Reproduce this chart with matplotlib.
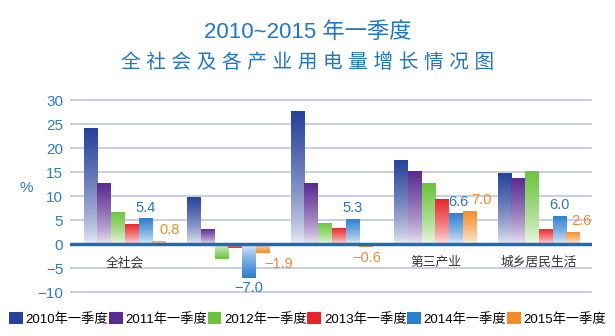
import numpy as np
import matplotlib
matplotlib.use("Agg")
import matplotlib.pyplot as plt
import matplotlib.colors as mcolors
from matplotlib.patches import Patch

plt.rcParams["font.family"] = ["Liberation Sans", "Noto Sans CJK SC", "DejaVu Sans"]

# =========================
# Data
# =========================
categories = ["全社会", "", "", "第三产业", "城乡居民生活"]
series_names = ["2010年一季度", "2011年一季度", "2012年一季度",
                "2013年一季度", "2014年一季度", "2015年一季度"]
v2010 = [24.3, 9.8, 27.8, 17.6, 14.9]
v2011 = [12.7, 3.3, 12.7, 15.3, 13.9]
v2012 = [6.8, -3.1, 4.5, 12.7, 15.3]
v2013 = [4.2, -0.8, 3.5, 9.4, 3.3]
v2014 = [5.4, -7.0, 5.3, 6.6, 6.0]
v2015 = [0.8, -1.9, -0.6, 7.0, 2.6]
yticks = [-10, -5, 0, 5, 10, 15, 20, 25, 30]

# =========================
# Style
# =========================
colors = ["#27409a", "#5a2a90", "#6cc43e", "#e8242a", "#2a7fcf", "#f28c28"]
tick_blue = "#2f7cc2"
label_blue = "#2a78c0"
label_orange = "#ee8a2c"
dx_2014 = [0, 0, 0, 2, 0]          # label shift in points
dx_2015 = [7, 11.5, 0, 8, 6]


def gradient_bar(ax, patch, color):
    x, w = patch.get_x(), patch.get_width()
    y0, h = patch.get_y(), patch.get_height()
    rgb = np.array(mcolors.to_rgb(color))
    t = np.linspace(0, 1, 64)[:, None, None]
    a = 0.08 + 0.92 * t ** 0.7
    img = (1 - a) * np.ones(3) + a * rgb
    im = ax.imshow(img, extent=(x, x + w, y0, y0 + h), origin="lower",
                   aspect="auto", interpolation="bilinear", zorder=2)
    im.set_clip_path(patch)
    patch.set_facecolor("none")
    patch.set_edgecolor("none")


fig = plt.figure(figsize=(6.15, 3.36), dpi=100)
ax = fig.add_axes([0.114, 0.127, 0.849, 0.577])

data = [v2010, v2011, v2012, v2013, v2014, v2015]
n = len(data)
width = 0.133
xs = np.arange(len(categories))

all_bars = []
for i, vals in enumerate(data):
    offs = (i - (n - 1) / 2) * width
    bars = ax.bar(xs + offs, vals, width=width, color=colors[i], zorder=2)
    all_bars.append(bars)
    for p in bars:
        gradient_bar(ax, p, colors[i])

# value labels for 2014 and 2015
for series_i, dxs, col in [(4, dx_2014, label_blue), (5, dx_2015, label_orange)]:
    for p, v, dx in zip(all_bars[series_i], data[series_i], dxs):
        cx = p.get_x() + p.get_width() / 2
        if v >= 0:
            ax.annotate(f"{v:.1f}", (cx, v), xytext=(dx, 2.5), textcoords="offset points",
                        ha="center", va="bottom", color=col, fontsize=10.5)
        else:
            ax.annotate(f"{v:.1f}".replace("-", "\u2212"), (cx, v), xytext=(dx, -2.5),
                        textcoords="offset points", ha="center", va="top",
                        color=col, fontsize=10.5)

# category labels just under the zero line
for x, name in zip(xs, categories):
    if name:
        ax.annotate(name, (x, 0), xytext=(0, -13.5), textcoords="offset points",
                    ha="center", va="center", color="#333333", fontsize=9.2,
                    weight="medium")

ax.axhline(0, color="#1f6cb4", linewidth=2.5, zorder=4)
ax.set_yticks(yticks)
ax.yaxis.grid(True, color="#c7cfe6", linewidth=1.4)
ax.set_axisbelow(True)
ax.tick_params(axis="y", length=0, pad=5, labelcolor=tick_blue, labelsize=11)
ax.set_xticks([])
for s in ax.spines.values():
    s.set_visible(False)
ax.set_xlim(-0.53, len(categories) - 1 + 0.515)
ax.set_ylim(-10.2, 30.2)

fig.text(26 / 615, 1 - 188 / 336, "%", color=tick_blue, fontsize=11,
         ha="center", va="center")

# titles
fig.text(0.5, 1 - 32 / 336, "2010~2015 年一季度", color="#2276c0", fontsize=16,
         ha="center", va="center", weight="medium")
fig.text(0.5, 1 - 63 / 336, " ".join("全社会及各产业用电量增长情况图"), color="#2276c0",
         fontsize=14.2, ha="center", va="center", weight="medium")

handles = [Patch(facecolor=c, edgecolor="none") for c in colors]
fig.legend(handles, series_names, loc="center", bbox_to_anchor=(0.5, 1 - 319 / 336),
           ncol=6, frameon=False, fontsize=9.5, handlelength=1.05, handleheight=0.95,
           handletextpad=0.2, columnspacing=0.05, borderaxespad=0)

fig.savefig("out.png", dpi=100, facecolor="white")
